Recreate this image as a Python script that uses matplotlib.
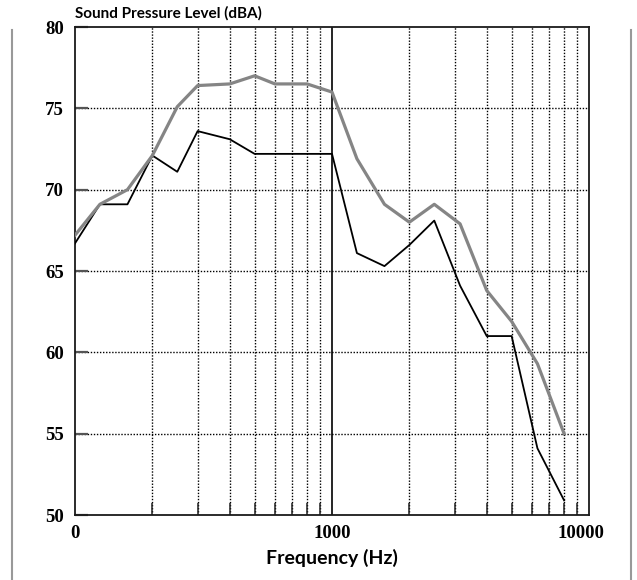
import numpy as np
import matplotlib
matplotlib.use("Agg")
import matplotlib.pyplot as plt
import matplotlib.transforms as mtransforms
from matplotlib.lines import Line2D
from matplotlib.ticker import FixedLocator, NullFormatter

# frequency points (Hz) and levels (dBA)
freq = [100, 125, 160, 200, 250, 300, 400, 500, 600, 800, 1000,
        1250, 1600, 2000, 2500, 3150, 4000, 5000, 6300, 8000]
level_grey = [67.2, 69.1, 70.0, 72.1, 75.1, 76.4, 76.5, 77.0, 76.5, 76.5, 76.0,
              71.9, 69.1, 68.0, 69.1, 67.9, 63.8, 61.9, 59.3, 55.0]
level_black = [66.7, 69.1, 69.1, 72.1, 71.1, 73.6, 73.1, 72.2, 72.2, 72.2, 72.2,
               66.1, 65.3, 66.6, 68.1, 64.1, 61.0, 61.0, 54.1, 50.9]

x_ticks = [100, 1000, 10000]
x_labels = ["0", "1000", "10000"]
y_ticks = [50, 55, 60, 65, 70, 75, 80]

SANS = "Lato"
SERIF = "Liberation Serif"

fig = plt.figure(figsize=(6.37, 5.8), dpi=100)
ax = fig.add_axes([75/637, 1 - 515/580, (589 - 75)/637, (515 - 27)/580])

ax.set_xscale("log")
ax.set_xlim(100, 10000)
ax.set_ylim(50, 80)

# grid: dotted minor verticals + dotted horizontals, solid line at 1000
minor = [m * d for d in (100, 1000) for m in range(2, 10)]
for xv in minor:
    ax.axvline(xv, color="black", lw=1.0, ls=(0, (1, 1.2)), zorder=1)
ax.axvline(1000, color="black", lw=1.2, zorder=1)
for yv in y_ticks[1:-1]:
    ax.axhline(yv, color="black", lw=1.0, ls=(0, (1, 1.2)), zorder=1)

ax.plot(freq, level_black, color="black", lw=1.3, zorder=3)
ax.plot(freq, level_grey, color="#858585", lw=2.3, zorder=4)

ax.xaxis.set_major_locator(FixedLocator(x_ticks))
ax.set_xticklabels(x_labels)
ax.xaxis.set_minor_locator(FixedLocator(minor))
ax.xaxis.set_minor_formatter(NullFormatter())
ax.tick_params(axis="x", which="major", length=0, pad=7)
ax.tick_params(axis="x", which="minor", direction="in", length=9, width=1.1, color="#222222")
ax.set_yticks(y_ticks)
ax.tick_params(axis="y", direction="in", length=9, width=1.6, color="#555555", pad=8)

for lab in ax.get_xticklabels() + ax.get_yticklabels():
    lab.set_fontfamily(SERIF)
    lab.set_fontweight("bold")
    lab.set_fontsize(13.5)

# the "10000" label sits a little left of the axis end
last = ax.get_xticklabels()[-1]
last.set_transform(last.get_transform() + mtransforms.ScaledTranslation(-8/100, 0, fig.dpi_scale_trans))

for sp in ax.spines.values():
    sp.set_linewidth(1.3)
    sp.set_color("#1a1a1a")

ax.set_xlabel("Frequency (Hz)", fontfamily=SANS, fontweight="bold", fontsize=14, labelpad=5)
fig.text(75/637, 1 - 13/580, "Sound Pressure Level (dBA)", fontfamily=SANS,
         fontweight="bold", fontsize=11, ha="left", va="center")

# page border lines on both sides
fig.add_artist(Line2D([12/637, 12/637], [0, 1 - 30/580], color="#999999", lw=1.5))
fig.add_artist(Line2D([631/637, 631/637], [0, 1 - 30/580], color="#999999", lw=1.5))

fig.savefig("out.png", dpi=100)
